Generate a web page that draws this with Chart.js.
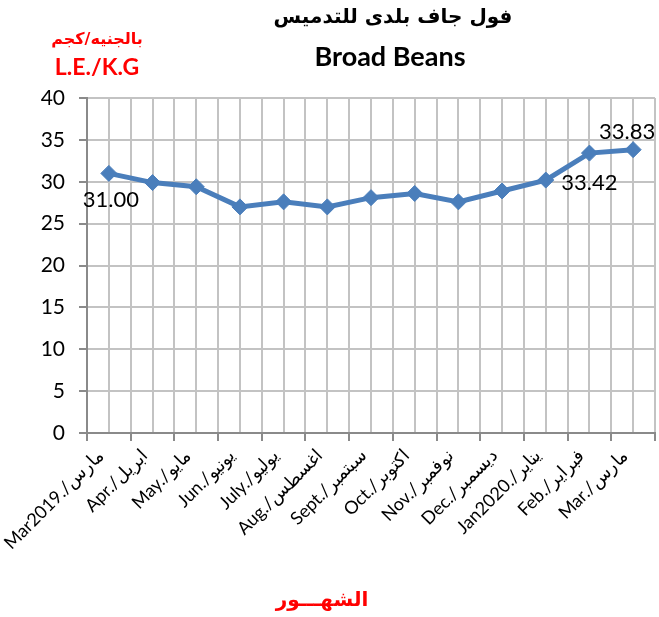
<!DOCTYPE html>
<html>
<head>
<meta charset="utf-8">
<script src="https://cdn.jsdelivr.net/npm/chart.js@4/dist/chart.umd.min.js"></script>
<style>
  html, body { margin: 0; padding: 0; background: #fff; overflow: hidden; }
  #wrap { width: 664px; height: 617px; }
</style>
</head>
<body>
<div id="wrap"><canvas id="myChart" width="664" height="617"></canvas></div>
<script>
// data
const months = [
  "Mar2019./مارس", "Apr./ابريل", "May./مايو", "Jun./يونيو", "July./يوليو",
  "Aug./اغسطس", "Sept./سبتمبر", "Oct./اكتوبر", "Nov./نوفمبر", "Dec./ديسمبر",
  "Jan2020./يناير", "Feb./فبراير", "Mar./مارس"
];
const prices = [31.00, 29.9, 29.4, 27.0, 27.6, 27.0, 28.1, 28.6, 27.6, 28.9, 30.2, 33.42, 33.83];
const labelledPoints = [0, 11, 12];
const yMin = 0;
const yMax = 40;
const yStep = 5;

const titleAr = "فول جاف بلدى للتدميس";
const titleEn = "Broad Beans";
const unitAr = "بالجنيه/كجم";
const unitEn = "L.E./K.G";
const xTitle = "الشهـــور";

const blue = "#4A7EBB";
const gridColor = "#c3c3c3";
const axisColor = "#8a8a8a";

//texts around the chart
const textPlugin = {
  id: "texts",
  afterDraw(chart) {
    const ctx = chart.ctx;
    ctx.save();
    ctx.textAlign = "center";
    ctx.textBaseline = "middle";

    ctx.fillStyle = "#000";
    ctx.font = "bold 20px 'DejaVu Sans'";
    ctx.fillText(titleAr, 393, 18);
    ctx.font = "bold 27px Lato";
    ctx.fillText(titleEn, 390, 57);

    ctx.fillStyle = "#ff0000";
    ctx.font = "bold 16px 'DejaVu Sans'";
    ctx.fillText(unitAr, 97, 40);
    ctx.font = "bold 23px Lato";
    ctx.fillText(unitEn, 97, 68);

    ctx.font = "bold 20px 'DejaVu Sans'";
    ctx.fillText(xTitle, 322, 601);
    ctx.restore();
  }
};

//value labels on some points
const labelOffsets = { 0: [2, 27], 11: [0, 30], 12: [-6, -18] };
const valuePlugin = {
  id: "values",
  afterDatasetsDraw(chart) {
    const ctx = chart.ctx;
    const meta = chart.getDatasetMeta(0);
    ctx.save();
    ctx.fillStyle = "#000";
    ctx.font = "22px Lato";
    ctx.textAlign = "center";
    ctx.textBaseline = "middle";
    labelledPoints.forEach((i) => {
      const pt = meta.data[i];
      const off = labelOffsets[i];
      ctx.fillText(prices[i].toFixed(2), pt.x + off[0], pt.y + off[1]);
    });
    ctx.restore();
  }
};

const myChart = new Chart(document.getElementById("myChart"), {
  type: "line",
  data: {
    labels: months,
    datasets: [
      {
        data: prices,
        borderColor: blue,
        backgroundColor: blue,
        borderWidth: 5,
        pointStyle: "rectRot",
        pointRadius: 8,
        pointBorderWidth: 1,
        pointBackgroundColor: blue,
        pointBorderColor: blue,
        tension: 0,
      },
    ],
  },
  options: {
    responsive: false,
    animation: false,
    layout: { padding: { top: 98, left: 0, right: 0, bottom: 0 } },
    plugins: {
      legend: { display: false },
      tooltip: { enabled: false },
    },
    scales: {
      x: {
        type: "category",
        offset: true,
        grid: { offset: true, color: gridColor, lineWidth: 2, tickLength: 8, tickColor: axisColor },
        border: { color: axisColor, width: 2 },
        ticks: {
          color: "#000",
          font: { family: "Lato", size: 18 },
          minRotation: 45,
          maxRotation: 45,
          autoSkip: false,
          padding: 4,
          labelOffset: -8,
        },
        afterFit(scale) {
          scale.height = 184;
          scale.paddingLeft = 0;
          scale.paddingRight = 0;
        },
      },
      x2: {
        type: "category",
        position: "bottom",
        labels: months,
        offset: true,
        grid: { offset: false, color: gridColor, lineWidth: 2, drawTicks: false },
        border: { display: false },
        ticks: { display: false },
        afterFit(scale) {
          scale.height = 0;
          scale.paddingLeft = 0;
          scale.paddingRight = 0;
        },
      },
      y: {
        min: yMin,
        max: yMax,
        ticks: {
          stepSize: yStep,
          color: "#000",
          font: { family: "Lato", size: 21 },
          padding: 14,
        },
        grid: { color: gridColor, lineWidth: 2, tickLength: 8, tickColor: axisColor },
        border: { color: axisColor, width: 2 },
        afterFit(scale) {
          scale.width = 87;
        },
      },
    },
  },
  plugins: [textPlugin, valuePlugin],
});
</script>
</body>
</html>
